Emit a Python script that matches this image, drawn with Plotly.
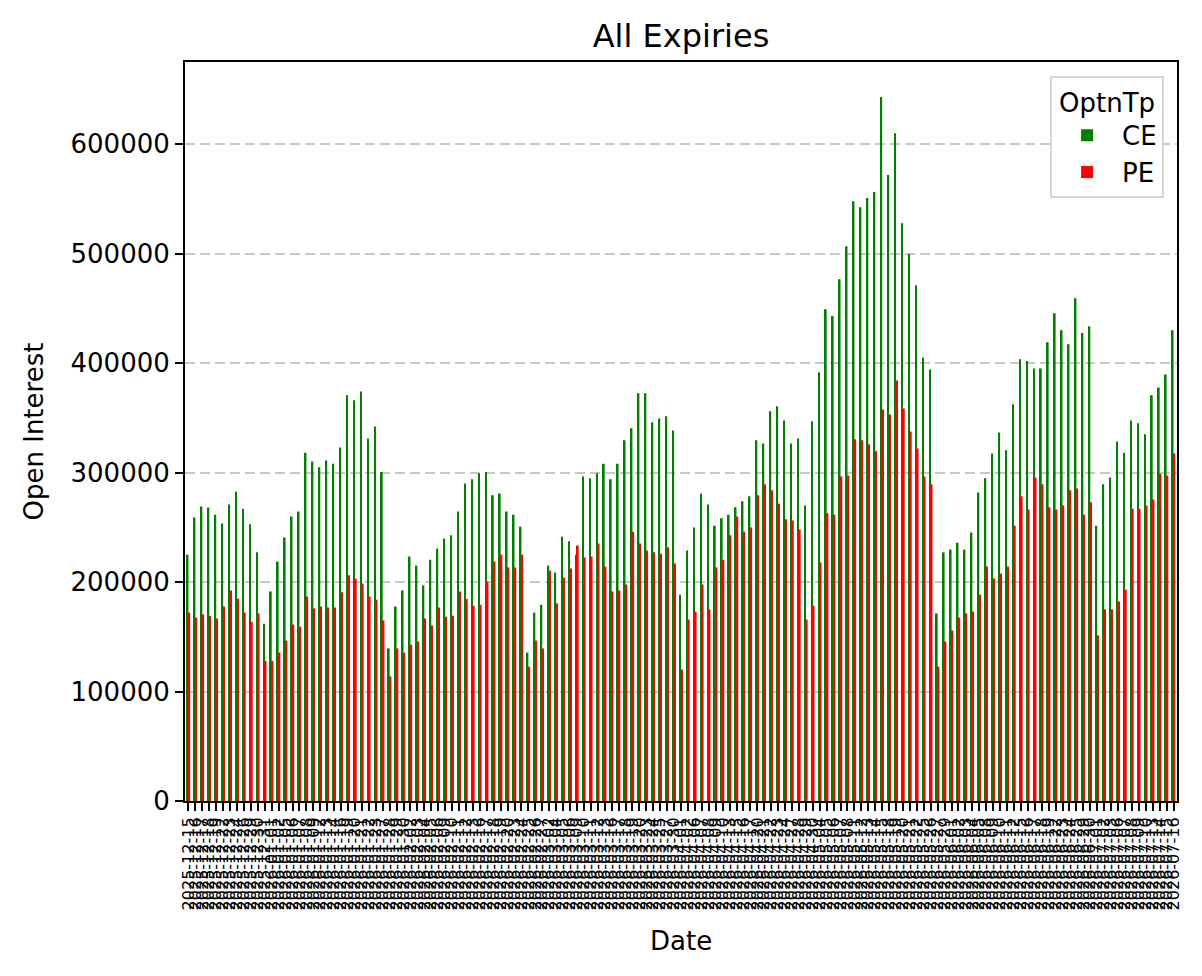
import plotly.graph_objects as go

# ---- categories: trading dates (Dec 2025 - Jul 2026) ----
dec_2025 = [15, 16, 17, 18, 19, 22, 23, 24, 26, 29, 30, 31]
jan_2026 = [1, 2, 5, 6, 7, 8, 9, 12, 13, 14, 16, 19, 20, 21, 22, 23, 27, 28, 29, 30]
feb_2026 = [2, 3, 4, 5, 6, 9, 10, 11, 12, 13, 16, 17, 18, 19, 20, 23, 24, 25, 26, 27]
mar_2026 = [2, 4, 5, 6, 9, 10, 11, 12, 13, 16, 17, 18, 19, 20, 23, 24, 25, 27, 30]
apr_2026 = [1, 2, 6, 7, 8, 9, 10, 13, 15, 16, 17, 20, 21, 22, 23, 24, 27, 28, 29, 30]
may_2026 = [4, 5, 6, 7, 8, 11, 12, 13, 14, 15, 18, 19, 20, 21, 22, 25, 26, 27, 29]
jun_2026 = [1, 2, 3, 4, 5, 8, 9, 10, 11, 12, 15, 16, 17, 18, 19, 22, 23, 24, 25, 29, 30]
jul_2026 = [1, 2, 3, 6, 7, 8, 9, 10, 13, 14, 15, 16]

months = [("2025-12", dec_2025), ("2026-01", jan_2026), ("2026-02", feb_2026),
          ("2026-03", mar_2026), ("2026-04", apr_2026), ("2026-05", may_2026),
          ("2026-06", jun_2026), ("2026-07", jul_2026)]
dates = [f"{ym}-{d:02d}" for ym, days in months for d in days]

# ---- series values (open interest) ----
ce_oi = [
    225000, 259000, 269000, 268000, 261500, 253500, 270800, 282500, 267000, 252700,
    227100, 162000, 191400, 218700, 240600, 259900, 264500, 318200, 310200, 304800,
    311100, 308100, 322800, 370700, 366100, 374100, 331200, 342100, 300600, 139400,
    177600, 192300, 223300, 215000, 196900, 220400, 230500, 239700, 242700, 264500,
    290100, 293900, 299300, 300600, 279200, 280900, 264500, 261500, 250600, 135600,
    172100, 179300, 215000, 208700, 241400, 237200, 225000, 296400, 294700, 299300,
    308100, 293900, 308100, 329600, 340500, 372400, 372400, 345900, 349300, 351400,
    338400, 188500, 228800, 249800, 280900, 270800, 251500, 258200, 261500, 268300,
    273700, 278300, 329600, 326600, 356000, 360600, 347600, 326600, 331200, 269900,
    346800, 391700, 449200, 442900, 476500, 506700, 547900, 542400, 550800, 556200,
    643000, 571800, 610000, 527700, 499600, 471000, 405100, 394200, 171300, 227100,
    229600, 235900, 229600, 245200, 281700, 294700, 317400, 336700, 320300, 362300,
    403400, 401800, 395000, 395000, 419000, 445400, 429900, 417300, 459300, 427400,
    433700, 251500, 289300, 295500, 328300, 318200, 347600, 345100, 335000, 370700,
    377800, 389600, 429900,
]
pe_oi = [
    172000, 167500, 170500, 169000, 166700, 177600, 192300, 184700, 172100, 163700,
    171300, 128000, 128000, 135600, 146500, 161200, 159100, 186800, 175900, 177600,
    176700, 176700, 190600, 206100, 203200, 198600, 186800, 183900, 165000, 113800,
    139400, 135600, 142700, 145700, 166700, 160400, 176700, 168300, 169200, 191400,
    184700, 178400, 179300, 200300, 218700, 225000, 213300, 213300, 225000, 122600,
    146500, 139400, 210300, 180500, 204000, 212400, 233400, 222500, 223300, 235100,
    214100, 191400, 192300, 197700, 246000, 235100, 228800, 227100, 225900, 231700,
    217000, 120100, 165800, 173000, 197700, 175100, 213300, 220400, 242700, 259900,
    246000, 249800, 279200, 289300, 283800, 271600, 257300, 256100, 248100, 165800,
    178400, 217900, 262800, 261500, 296400, 297200, 330400, 329600, 325800, 319500,
    357700, 353100, 384100, 358500, 337500, 322000, 296400, 289300, 122600, 145700,
    155800, 167500, 171300, 173000, 188500, 214100, 203200, 207800, 214100, 251500,
    278300, 266200, 295500, 289300, 268300, 266200, 269900, 283800, 285500, 261500,
    272900, 151100, 175100, 175100, 182200, 193100, 267000, 267000, 269900, 275400,
    298900, 297200, 317400,
]

y_ticks = [0, 100000, 200000, 300000, 400000, 500000, 600000]
y_tick_labels = [str(v) for v in y_ticks]

FONT = "DejaVu Sans"

fig = go.Figure()
fig.add_trace(go.Bar(name="CE", x=dates, y=ce_oi, marker=dict(color="#008000", line=dict(width=0))))
fig.add_trace(go.Bar(name="PE", x=dates, y=pe_oi, marker=dict(color="#ff0000", line=dict(width=0))))

fig.update_layout(
    width=1202, height=976,
    margin=dict(l=185, r=25, t=62, b=175, autoexpand=False),
    paper_bgcolor="white", plot_bgcolor="white",
    font=dict(family=FONT, size=26, color="black"),
    barmode="group", bargap=0.5, bargroupgap=0,
    showlegend=True,
    title=dict(text="All Expiries", x=0.5, xref="paper", xanchor="center",
               y=1 - 36 / 976, yref="container", yanchor="middle",
               font=dict(family=FONT, size=32, color="black")),
    legend=dict(
        x=0.987, y=0.981, xanchor="right", yanchor="top",
        bgcolor="white", bordercolor="#d6d6d6", borderwidth=2,
        font=dict(family=FONT, size=26),
        title=dict(text="OptnTp", side="top center", font=dict(family=FONT, size=26)),
        itemwidth=60,
    ),
)

fig.update_xaxes(
    type="category", range=[-0.5, len(dates) - 0.5],
    tickmode="array", tickvals=dates, ticktext=dates,
    tickangle=-90, tickfont=dict(family=FONT, size=16),
    ticks="outside", ticklen=8, tickwidth=2, tickcolor="black",
    showline=True, linewidth=2, linecolor="black", mirror=True,
    showgrid=False, zeroline=False, automargin=False,
)
fig.update_yaxes(
    range=[0, 675000],
    tickmode="array", tickvals=y_ticks, ticktext=y_tick_labels,
    tickfont=dict(family=FONT, size=26),
    ticks="outside", ticklen=8, tickwidth=2, tickcolor="black",
    showline=True, linewidth=2, linecolor="black", mirror=True,
    showgrid=True, gridcolor="#c8c8c8", gridwidth=1.5, griddash="10px,5px",
    zeroline=False, automargin=False,
)

# axis titles
fig.add_annotation(text="Open Interest", xref="paper", yref="paper",
                   x=-(185 - 33) / 992, y=0.5, xanchor="center", yanchor="middle",
                   textangle=-90, showarrow=False, font=dict(family=FONT, size=26))
fig.add_annotation(text="Date", xref="paper", yref="paper",
                   x=0.5, y=-(941 - 801) / 739, xanchor="center", yanchor="middle",
                   showarrow=False, font=dict(family=FONT, size=26))

fig.write_html("out.html")
